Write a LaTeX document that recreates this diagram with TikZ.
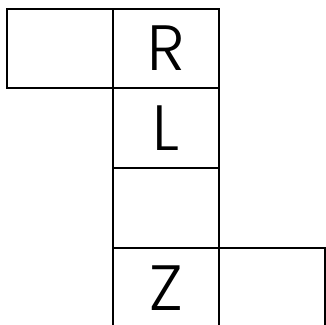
\documentclass[tikz,border=0pt]{standalone}
\usepackage{fontspec}
\newfontfamily\cellfont{Poppins Light}
\usetikzlibrary{positioning}

\begin{document}
\begin{tikzpicture}[
  x=1pt, y=-1pt,
  cell/.style={draw=black, line width=2pt, minimum width=106pt,
               minimum height=80pt, inner sep=0pt, outer sep=0pt,
               font=\cellfont\fontsize{64}{64}\selectfont},
]
\useasboundingbox (0,0) rectangle (326,324);
\clip (0,0) rectangle (326,324);

%% ---------- top row ----------
\node[cell, minimum height=79pt] (a1) at (60,48.5) {};
\node[cell, minimum height=79pt, right=0pt of a1] (r) {R};

%% ---------- down column ----------
\node[cell, below=0pt of r] (l) {L};
\node[cell, below=0pt of l] (gap) {};
\node[cell, below=0pt of gap] (z) {Z};
\node[cell, right=0pt of z] (b4) {};

\end{tikzpicture}
\end{document}
